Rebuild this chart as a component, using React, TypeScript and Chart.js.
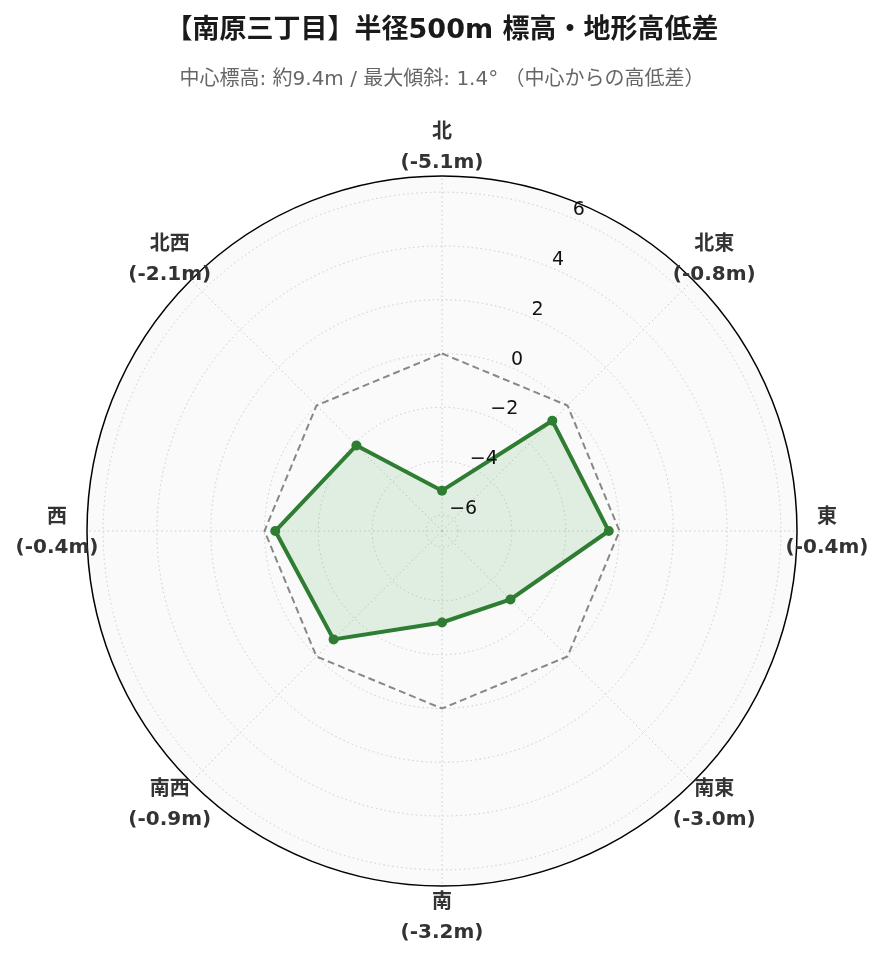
import React, { useEffect, useRef } from "react";
import { Chart, registerables } from "chart.js";

Chart.register(...registerables);

// ---- data ----
const directions = ["北", "北東", "東", "南東", "南", "南西", "西", "北西"];
const diffs = [-5.1, -0.8, -0.4, -3.0, -3.2, -0.9, -0.4, -2.1];
const zeroRef = [0, 0, 0, 0, 0, 0, 0, 0];
const tickValues = [-6, -4, -2, 0, 2, 4, 6];
const rMin = -6.6;
const rMax = 6.6;
const titleText = "【南原三丁目】半径500m 標高・地形高低差";
const subtitleText = "中心標高: 約9.4m / 最大傾斜: 1.4° （中心からの高低差）";

const FONT = "'DejaVu Sans', 'Noto Sans CJK JP', sans-serif";

const polarDecor = {
  id: "polarDecor",
  beforeDraw(chart: any) {
    const s = chart.scales.r;
    const ctx = chart.ctx;
    ctx.save();
    ctx.beginPath();
    ctx.arc(s.xCenter, s.yCenter, s.drawingArea, 0, Math.PI * 2);
    ctx.fillStyle = "#fafafa";
    ctx.fill();
    ctx.restore();
  },
  afterDatasetsDraw(chart: any) {
    const s = chart.scales.r;
    const ctx = chart.ctx;
    ctx.save();
    // outer spine
    ctx.beginPath();
    ctx.arc(s.xCenter, s.yCenter, s.drawingArea, 0, Math.PI * 2);
    ctx.strokeStyle = "#000";
    ctx.lineWidth = 1.5;
    ctx.setLineDash([]);
    ctx.stroke();
    // radial tick labels at 22.5deg
    ctx.font = `19px ${FONT}`;
    ctx.fillStyle = "#111";
    ctx.textAlign = "left";
    ctx.textBaseline = "alphabetic";
    tickValues.forEach((v) => {
      const d = s.getDistanceFromCenterForValue(v);
      const p = s.getPointPosition(0, d, Math.PI / 8);
      const txt = v < 0 ? "\u2212" + Math.abs(v) : String(v);
      ctx.fillText(txt, p.x + 1, p.y - 2.5);
    });
    ctx.restore();
  },
  afterDraw(chart: any) {
    const s = chart.scales.r;
    const ctx = chart.ctx;
    ctx.save();
    ctx.font = `bold 20px ${FONT}`;
    ctx.fillStyle = "#333";
    ctx.textAlign = "center";
    ctx.textBaseline = "middle";
    directions.forEach((d, i) => {
      const p = s.getPointPosition(i, s.drawingArea + 30);
      ctx.fillText(d, p.x, p.y - 15 + 1.5);
      ctx.fillText(`(${diffs[i].toFixed(1)}m)`, p.x, p.y + 15 + 1.5);
    });
    ctx.restore();
  },
};

export default function App() {
  const ref = useRef<HTMLCanvasElement | null>(null);
  useEffect(() => {
    if (!ref.current) return;
    const chart = new Chart(ref.current, {
      type: "radar",
      data: {
        labels: directions,
        datasets: [
          {
            label: "高低差",
            data: diffs,
            borderColor: "#2e7d32",
            backgroundColor: "rgba(76,175,80,0.15)",
            borderWidth: 4,
            pointRadius: 5,
            pointBackgroundColor: "#2e7d32",
            pointBorderWidth: 0,
            fill: "start",
          },
          {
            label: "中心標高",
            data: zeroRef,
            borderColor: "#888888",
            borderWidth: 2,
            borderDash: [7, 4],
            pointRadius: 0,
            fill: false,
          },
        ],
      },
      options: {
        responsive: false,
        animation: false,
        layout: { padding: { left: 87, right: 88, top: 0, bottom: 75 } },
        plugins: {
          legend: { display: false },
          tooltip: { enabled: false },
          title: {
            display: true,
            text: titleText,
            color: "#1a1a1a",
            font: { family: FONT, size: 27, weight: "bold" },
            padding: { top: 15, bottom: 0 },
          },
          subtitle: {
            display: true,
            text: subtitleText,
            color: "#666",
            font: { family: FONT, size: 20, weight: "normal" },
            padding: { top: 20, bottom: 85 },
          },
        },
        scales: {
          r: {
            min: rMin,
            max: rMax,
            startAngle: 0,
            afterBuildTicks: (scale: any) => {
              scale.ticks = tickValues.map((v) => ({ value: v }));
            },
            ticks: { display: false },
            pointLabels: { display: false },
            grid: { circular: true, color: "#cccccc", lineWidth: 1 },
            border: { dash: [1.5, 3] },
            angleLines: { color: "#cccccc", lineWidth: 1, borderDash: [1.5, 3] },
          },
        },
      },
      plugins: [polarDecor],
    } as any);
    return () => chart.destroy();
  }, []);
  return (
    <div style={{ position: "absolute", left: 0, top: 0, width: 885, height: 962 }}>
      <canvas ref={ref} width={885} height={962} style={{ display: "block" }} />
    </div>
  );
}
